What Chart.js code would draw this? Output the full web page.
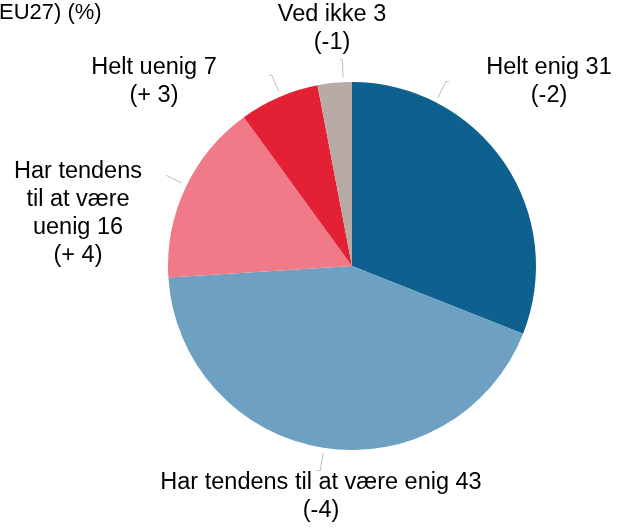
<!DOCTYPE html>
<html>
<head>
<meta charset="utf-8">
<script src="https://cdn.jsdelivr.net/npm/chart.js@4"></script>
<style>
  html, body { margin: 0; padding: 0; background: #fff; }
  #wrap { width: 631px; height: 529px; position: relative; }
</style>
</head>
<body>
<div id="wrap"><canvas id="pieChart" width="631" height="529"></canvas></div>
<script>
// data
const categories = ['Helt enig', 'Har tendens til at være enig', 'Har tendens til at være uenig', 'Helt uenig', 'Ved ikke'];
const values = [31, 43, 16, 7, 3];
const changes = [-2, -4, 4, 3, -1];
const colors = ['#0e608f', '#6ea0c1', '#f07a87', '#e42034', '#b8aaa4'];

const FONT = '23.5px "Liberation Sans", Arial, sans-serif';
const LINE_H = 28;

// label placement relative to the pie centre, leader angle (deg from top, clockwise)
const labelLayout = [
  { dx: 197, dy: -198, maxW: 200, angle: 27, hook: 3 },
  { dx: -31, dy: 217, maxW: 400, angle: 188.8, hook: -4 },
  { dx: -274, dy: -94, maxW: 140, angle: 296, hook: 0 },
  { dx: -198, dy: -198, maxW: 200, angle: 337.2, hook: -3 },
  { dx: -20, dy: -251, maxW: 200, angle: 357.3, hook: -2 }
];

function wrapText(ctx, text, maxW) {
  const words = text.split(' ');
  const lines = [];
  let cur = '';
  words.forEach(w => {
    const test = cur ? cur + ' ' + w : w;
    if (ctx.measureText(test).width > maxW && cur) {
      lines.push(cur);
      cur = w;
    } else {
      cur = test;
    }
  });
  if (cur) lines.push(cur);
  return lines;
}

const labelPlugin = {
  id: 'pieLabels',
  afterDraw(chart) {
    const ctx = chart.ctx;
    const arc = chart.getDatasetMeta(0).data[0];
    if (!arc) return;
    const cx = arc.x, cy = arc.y, r = arc.outerRadius;
    ctx.save();

    // title (cut off at left edge as in the original)
    ctx.font = '22px "Liberation Sans", Arial, sans-serif';
    ctx.fillStyle = '#000';
    ctx.textAlign = 'left';
    ctx.textBaseline = 'alphabetic';
    ctx.fillText('EU27) (%)', -1, 19);

    ctx.font = FONT;
    categories.forEach((cat, i) => {
      const lay = labelLayout[i];
      // leader line
      const a = lay.angle * Math.PI / 180;
      const x0 = cx + Math.sin(a) * (r + 5), y0 = cy - Math.cos(a) * (r + 5);
      const x1 = cx + Math.sin(a) * (r + 23), y1 = cy - Math.cos(a) * (r + 23);
      ctx.strokeStyle = '#bfbfbf';
      ctx.lineWidth = 1;
      ctx.beginPath();
      ctx.moveTo(x0, y0);
      ctx.lineTo(x1, y1);
      if (lay.hook) ctx.lineTo(x1 + lay.hook, y1);
      ctx.stroke();

      // label text
      const ch = changes[i] > 0 ? '(+ ' + changes[i] + ')' : '(' + changes[i] + ')';
      const lines = wrapText(ctx, cat + ' ' + values[i], lay.maxW).concat([ch]);
      ctx.fillStyle = '#000';
      ctx.textAlign = 'center';
      ctx.textBaseline = 'middle';
      lines.forEach((ln, k) => {
        ctx.fillText(ln, cx + lay.dx, cy + lay.dy + k * LINE_H);
      });
    });
    ctx.restore();
  }
};

new Chart(document.getElementById('pieChart'), {
  type: 'pie',
  data: {
    labels: categories,
    datasets: [{
      data: values,
      backgroundColor: colors,
      borderWidth: 0
    }]
  },
  options: {
    responsive: false,
    animation: false,
    layout: {
      padding: { left: 168, right: 95, top: 82, bottom: 79 }
    },
    plugins: {
      legend: { display: false },
      tooltip: { enabled: false },
      title: { display: false }
    }
  },
  plugins: [labelPlugin]
});
</script>
</body>
</html>
